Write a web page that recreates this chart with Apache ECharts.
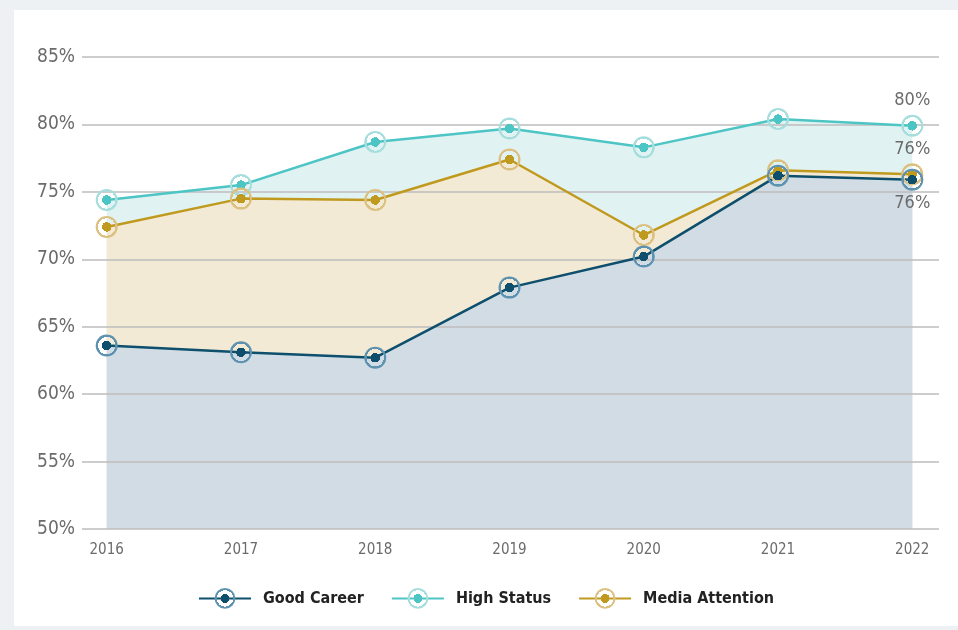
<!DOCTYPE html>
<html>
<head>
<meta charset="utf-8">
<script src="https://cdn.jsdelivr.net/npm/echarts@6/dist/echarts.min.js"></script>
<style>
html, body { margin: 0; padding: 0; background: #edf1f4; }
#chart { position: absolute; left: 14px; top: 10px; width: 944px; height: 616px; background: #fff; }
</style>
</head>
<body>
<div id="chart"></div>
<script>
var years = [2016, 2017, 2018, 2019, 2020, 2021, 2022];
var goodCareer = [63.6, 63.1, 62.7, 67.9, 70.2, 76.2, 75.9];
var highStatus = [74.4, 75.5, 78.7, 79.7, 78.3, 80.4, 79.9];
var mediaAttention = [72.4, 74.5, 74.4, 77.4, 71.8, 76.6, 76.3];

var font = "'DejaVu Sans Condensed', 'Liberation Sans Narrow', Roboto, sans-serif";
var chart = echarts.init(document.getElementById('chart'));

function pairs(arr) {
    return years.map(function (y, i) { return [y, arr[i]]; });
}

// dot + transparent gap + ring, as one symbol fill
function ringFill(dot, ring) {
    var clear = 'rgba(255,255,255,0)';
    return new echarts.graphic.RadialGradient(0.5, 0.5, 0.5, [
        {offset: 0, color: dot}, {offset: 0.43, color: dot},
        {offset: 0.43, color: clear}, {offset: 0.79, color: clear},
        {offset: 0.79, color: ring}, {offset: 1, color: ring}
    ]);
}

function areaSeries(name, arr, fill) {
    return {
        name: name + ' area',
        type: 'line',
        data: pairs(arr),
        symbol: 'none',
        lineStyle: {width: 0},
        areaStyle: {color: fill, opacity: 1},
        silent: true,
        z: 1
    };
}

function lineSeries(name, arr, line, ring, pos) {
    return {
        name: name,
        type: 'line',
        data: pairs(arr),
        symbol: 'circle',
        symbolSize: 22,
        showAllSymbol: true,
        lineStyle: {color: line, width: 2.5},
        itemStyle: {color: ringFill(line, ring)},
        label: {
            show: true,
            position: pos,
            distance: pos === 'top' ? 5 : 4,
            color: '#6b6b6b',
            fontFamily: font,
            fontSize: 18,
            formatter: function (p) {
                return p.dataIndex === years.length - 1 ? Math.round(p.value[1]) + '%' : '';
            }
        },
        emphasis: {disabled: true},
        z: 5
    };
}

option = {
    animation: false,
    grid: {left: 68, right: 19, top: 47, bottom: 97},
    legend: {
        data: ['Good Career', 'High Status', 'Media Attention'],
        top: 573,
        left: 'center',
        itemWidth: 52,
        itemHeight: 26,
        itemGap: 27,
        textStyle: {
            fontFamily: font,
            fontWeight: 'bold',
            fontSize: 16,
            color: '#222',
            padding: [0, 0, 0, 7]
        }
    },
    xAxis: {
        type: 'value',
        min: 2015.816,
        max: 2022.199,
        axisLine: {show: false},
        axisTick: {show: false},
        splitLine: {show: false},
        axisLabel: {
            customValues: years,
            margin: 14,
            color: '#6b6b6b',
            fontFamily: font,
            fontSize: 15,
            formatter: function (v) { return String(v); }
        }
    },
    yAxis: {
        type: 'value',
        min: 50,
        max: 85,
        interval: 5,
        z: 3,
        axisLine: {show: false},
        axisTick: {show: false},
        splitLine: {lineStyle: {color: '#bcbcbc', width: 1.5}},
        axisLabel: {
            margin: 7,
            color: '#6b6b6b',
            fontFamily: font,
            fontSize: 19,
            formatter: '{value}%'
        }
    },
    series: [
        areaSeries('High Status', highStatus, '#e1f2f3'),
        areaSeries('Media Attention', mediaAttention, '#f3ead5'),
        areaSeries('Good Career', goodCareer, '#d2dce4'),
        lineSeries('High Status', highStatus, '#4ec5c5', '#a6dede', 'top'),
        lineSeries('Media Attention', mediaAttention, '#bf9a1f', '#dcc07f', 'top'),
        lineSeries('Good Career', goodCareer, '#0d4f6c', '#5d92b0', 'bottom')
    ]
};
chart.setOption(option);
</script>
</body>
</html>
